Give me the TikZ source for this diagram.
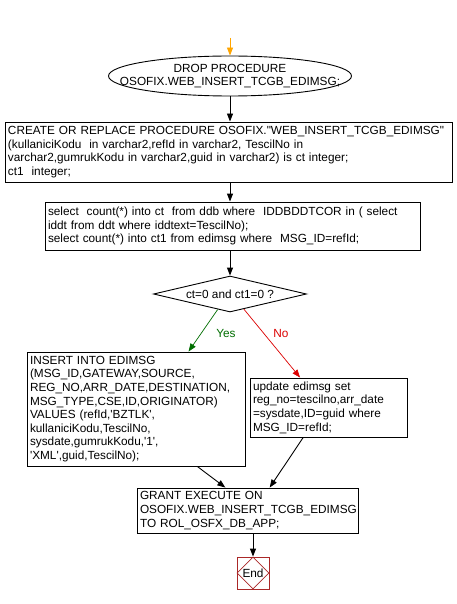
\documentclass[tikz,border=0pt]{standalone}
\usepackage{fontspec}
\setmainfont{Liberation Sans}
\usetikzlibrary{shapes.geometric,arrows.meta,calc}
\newcommand\sq{\textquotesingle}
\newcommand\dq{\textquotedbl}
\definecolor{yesgreen}{RGB}{0,110,0}
\definecolor{nored}{RGB}{220,0,0}
\definecolor{endred}{RGB}{170,40,40}
\definecolor{startorange}{RGB}{255,165,0}
\begin{document}
\begin{tikzpicture}[x=1pt,y=-1pt,
  every node/.style={font=\fontsize{11.8}{13.6}\selectfont},
  box/.style={draw,line width=0.9pt,align=left,inner xsep=3pt,inner ysep=0pt},
  conn/.style={line width=0.9pt,-{Triangle[length=8pt,width=6pt]}},
  plain/.style={inner sep=0pt}]
\fill[white] (0,0) rectangle (457,604);
\useasboundingbox (0,0) rectangle (457,604);

\coordinate (start) at (230,38);
\node[draw,ellipse,line width=0.9pt,minimum width=243,minimum height=40,inner sep=0] (e) at (230,76) {};
\node[plain,align=center] (etext) at (e.center) {DROP PROCEDURE\\OSOFIX.WEB\_INSERT\_TCGB\_EDIMSG;};

\node[box,minimum width=447,minimum height=60,text width=441pt] (b2) at (228.5,152)
 {CREATE OR REPLACE PROCEDURE OSOFIX.\dq WEB\_INSERT\_TCGB\_EDIMSG\dq\\
 (kullaniciKodu\ \ in varchar2,refId in varchar2, TescilNo in\\
 varchar2,gumrukKodu in varchar2,guid in varchar2) is ct integer;\\
 ct1\ \ integer;};

\node[box,minimum width=375,minimum height=48,text width=369pt] (b3) at (232.5,226)
 {select\ \ count(*) into ct\ \ from ddb where\ \ IDDBDDTCOR in ( select\\
 iddt from ddt where iddtext=TescilNo);\\
 select count(*) into ct1 from edimsg where\ \ MSG\_ID=refId;};

\node[draw,diamond,line width=0.9pt,minimum width=153,minimum height=36,inner sep=0] (d) at (230,294) {};
\node[plain] (dtext) at (d.center) {ct=0 and ct1=0 ?};

\node[box,minimum width=218,minimum height=114,text width=212pt] (b4) at (136,409)
 {INSERT INTO EDIMSG\\
 (MSG\_ID,GATEWAY,SOURCE,\\
 REG\_NO,ARR\_DATE,DESTINATION,\\
 MSG\_TYPE,CSE,ID,ORIGINATOR)\\
 VALUES (refId,\sq BZTLK\sq,\\
 kullaniciKodu,TescilNo,\\
 sysdate,gumrukKodu,\sq 1\sq,\\
 \sq XML\sq,guid,TescilNo);};

\node[box,minimum width=157,minimum height=59,text width=151pt] (b5) at (328.5,407.5)
 {update edimsg set\\
 reg\_no=tescilno,arr\_date\\
 =sysdate,ID=guid where\\
 MSG\_ID=refId;};

\node[box,minimum width=221,minimum height=45,text width=215pt] (b6) at (247.5,510.5)
 {GRANT EXECUTE ON\\
 OSOFIX.WEB\_INSERT\_TCGB\_EDIMSG\\
 TO ROL\_OSFX\_DB\_APP;};

\node[draw=endred,line width=0.9pt,minimum width=32,minimum height=32,inner sep=0] (endbox) at (253,573) {};
\node[draw=endred,diamond,line width=0.7pt,minimum width=32,minimum height=32,inner sep=0] (enddia) at (endbox.center) {};
\node[plain] (endtext) at (endbox.center) {End};

% connectors
\draw[conn,startorange] (start) -- (e.north);
\draw[conn] (e.south) -- (e.south |- b2.north);
\draw[conn] (b2.south -| e.south) -- (e.south |- b3.north);
\draw[conn] (b3.south -| d.north) -- (d.north);

\draw[conn,yesgreen,line width=0.7pt] ($(d.south)!0.16!(d.west)$) -- ($(b4.north west)!0.74!(b4.north east)$);
\node[text=yesgreen,plain] (yes) at (226,333) {Yes};
\draw[conn,nored,line width=0.7pt] ($(d.south)!0.18!(d.east)$) -- ($(b5.north west)!0.32!(b5.north east)$);
\node[text=nored,plain] (no) at (281,333) {No};

\draw[conn] ($(b4.south west)!0.78!(b4.south east)$) -- ($(b6.north west)!0.40!(b6.north east)$);
\draw[conn] ($(b5.south west)!0.34!(b5.south east)$) -- ($(b6.north west)!0.60!(b6.north east)$);
\draw[conn] (b6.south -| endbox.north) -- (endbox.north);
\end{tikzpicture}
\end{document}
